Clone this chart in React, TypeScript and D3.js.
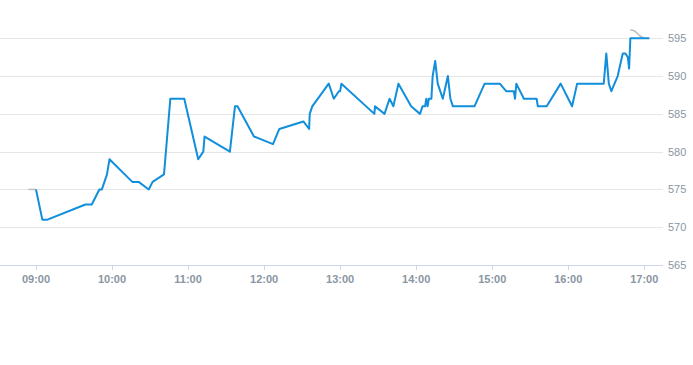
import React, { useRef, useEffect } from 'react';
import * as d3 from 'd3';

// minutes after 09:00 and price
const times = [
  0, 5, 9, 39, 44, 50, 52, 56, 58, 76, 81, 89, 92, 101, 106, 117, 128, 132, 133, 153,
  157, 159, 172, 187, 192, 211, 215.5, 216, 218, 231, 235, 239, 240, 241, 267, 267.5, 275, 279, 282, 286,
  296, 303, 305, 307, 308, 309, 310, 312, 313, 315, 317, 321, 325, 327, 329, 346, 354, 366, 371, 377,
  378, 379, 385, 395, 396, 403, 414, 423, 427, 448, 450, 452, 454, 459, 463, 465, 467, 468, 469, 484,
];
const prices = [
  575, 571, 571, 573, 573, 575, 575, 577, 579, 576, 576, 575, 576, 577, 587, 587, 579, 580, 582, 580,
  586, 586, 582, 581, 583, 584, 583, 585, 586, 589, 587, 588, 588, 589, 585, 586, 585, 587, 586, 589,
  586, 585, 586, 586, 587, 586, 587, 587, 590, 592, 589, 587, 590, 587, 586, 586, 589, 589, 588, 588,
  587, 589, 587, 587, 586, 586, 589, 586, 589, 589, 593, 589, 588, 590, 593, 593, 592.5, 591, 595, 595,
];
// grey reference segments
const preTimes = [-6, 0];
const prePrices = [575, 575];
const postTimes = [469, 472, 476, 480];
const postPrices = [596.1, 596, 595.4, 595];

const yTicks = [565, 570, 575, 580, 585, 590, 595];
const hourLabels = ['09:00', '10:00', '11:00', '12:00', '13:00', '14:00', '15:00', '16:00', '17:00'];

export default function App() {
  const ref = useRef<SVGSVGElement>(null);
  const w = 693,
    h = 365;

  useEffect(() => {
    const svg = d3.select(ref.current);
    svg.selectAll('*').remove();

    const x = d3.scaleLinear().domain([0, 480]).range([36, 644.3]);
    const y = d3.scaleLinear().domain([565, 595]).range([265, 38.3]);
    const gridRight = 663;
    const font = 'Liberation Sans, Arial, sans-serif';

    // GRID
    svg
      .append('g')
      .selectAll('line')
      .data(yTicks)
      .enter()
      .append('line')
      .attr('x1', 0)
      .attr('x2', gridRight)
      .attr('y1', (d) => Math.round(y(d)) + 0.5)
      .attr('y2', (d) => Math.round(y(d)) + 0.5)
      .attr('stroke', (d) => (d === 565 ? '#ccd6eb' : '#e6e6e6'));

    // Y LABELS
    svg
      .append('g')
      .selectAll('text')
      .data(yTicks)
      .enter()
      .append('text')
      .attr('x', 668)
      .attr('y', (d) => y(d) + 4)
      .attr('font-family', font)
      .attr('font-size', 11)
      .attr('fill', '#8a96a3')
      .text((d) => d);

    // X TICKS
    const xg = svg.append('g');
    xg.selectAll('line')
      .data(hourLabels)
      .enter()
      .append('line')
      .attr('x1', (_, i) => Math.round(x(i * 60)) + 0.5)
      .attr('x2', (_, i) => Math.round(x(i * 60)) + 0.5)
      .attr('y1', 265)
      .attr('y2', 270)
      .attr('stroke', '#ccd6eb');
    xg.selectAll('text')
      .data(hourLabels)
      .enter()
      .append('text')
      .attr('x', (_, i) => x(i * 60))
      .attr('y', 283)
      .attr('text-anchor', 'middle')
      .attr('font-family', font)
      .attr('font-size', 11)
      .attr('font-weight', 'bold')
      .attr('fill', '#8a96a3')
      .text((d) => d);

    // LINES
    const pathOf = (ts: number[], ps: number[], curve = d3.curveLinear) =>
      d3
        .line<number>()
        .x((d) => x(d))
        .y((_, i) => y(ps[i]))
        .curve(curve)(ts);

    svg
      .append('path')
      .attr('d', pathOf(preTimes, prePrices))
      .attr('fill', 'none')
      .attr('stroke', '#bbbbbb')
      .attr('stroke-width', 1.5);

    svg
      .append('path')
      .attr('d', pathOf(postTimes, postPrices, d3.curveMonotoneX))
      .attr('fill', 'none')
      .attr('stroke', '#bbbbbb')
      .attr('stroke-width', 1.5);

    svg
      .append('path')
      .attr('d', pathOf(times, prices))
      .attr('fill', 'none')
      .attr('stroke', '#118fdb')
      .attr('stroke-width', 2)
      .attr('stroke-linejoin', 'round');
  }, []);

  return (
    <div style={{ position: 'absolute', left: 0, top: 0 }}>
      <svg ref={ref} width={w} height={h} />
    </div>
  );
}
